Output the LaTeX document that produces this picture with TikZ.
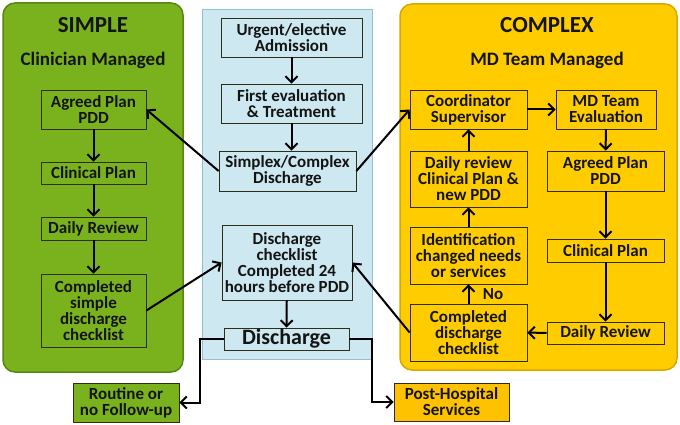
\documentclass[tikz,border=0pt]{standalone}
\usepackage{fontspec}
\setmainfont{Carlito}
\usetikzlibrary{arrows.meta}

\definecolor{simplegreen}{RGB}{122,178,30}
\definecolor{greenedge}{RGB}{88,134,18}
\definecolor{wardblue}{RGB}{205,232,240}
\definecolor{blueedge}{RGB}{150,192,208}
\definecolor{complexyellow}{RGB}{255,204,0}
\definecolor{yellowedge}{RGB}{214,168,0}
\definecolor{postorange}{RGB}{255,194,0}
\definecolor{boxline}{RGB}{45,45,25}
\definecolor{textdark}{RGB}{20,20,20}

\tikzset{
  box/.style={draw=boxline,line width=0.8pt,align=center,inner sep=1pt,text=textdark,font=\bfseries\fontsize{17}{16}\selectfont},
  gbox/.style={box,fill=simplegreen},
  bbox/.style={box,fill=wardblue},
  ybox/.style={box,fill=complexyellow},
  heading/.style={text=textdark,font=\bfseries\fontsize{19}{20}\selectfont},
  flow/.style={line width=2pt,-{Straight Barb[length=6pt,width=12pt]}},
}

\begin{document}
\begin{tikzpicture}[x=1pt,y=-1pt]
  \useasboundingbox (0,0) rectangle (680,425);
  % the three panels
  \draw[fill=simplegreen,draw=greenedge,line width=1.5pt,rounded corners=12pt] (3,3) rectangle (183,372);
  \draw[fill=wardblue,draw=blueedge,line width=1pt] (202,10) rectangle (372,359);
  \draw[fill=complexyellow,draw=yellowedge,line width=1.5pt,rounded corners=12pt] (400,4) rectangle (677,370);

  % simple side
  \node[heading,font=\bfseries\fontsize{23}{24}\selectfont] at (93,25) (simple) {SIMPLE};
  \node[heading] at (93,60) (clinician) {Clinician Managed};
  \node[gbox,minimum width=105pt,minimum height=39pt] at (93.5,109.5) (gagreed) {Agreed Plan\\PDD};
  \node[gbox,minimum width=105pt,minimum height=22pt] at (93.5,173) (gclin) {Clinical Plan};
  \node[gbox,minimum width=105pt,minimum height=23pt] at (93.5,228.5) (gdaily) {Daily Review};
  \node[gbox,minimum width=105pt,minimum height=73pt] at (93.5,310.5) (gcompl) {Completed\\simple\\discharge\\checklist};

  % ward column
  \node[bbox,minimum width=141pt,minimum height=39pt] at (291.5,37.5) (admit) {Urgent/elective\\Admission};
  \node[bbox,minimum width=141pt,minimum height=39pt] at (291.5,103.5) (firsteval) {First evaluation\\\& Treatment};
  \node[bbox,minimum width=137pt,minimum height=40pt] at (287.5,171) (simplex) {Simplex/Complex\\Discharge};
  \node[bbox,minimum width=130pt,minimum height=75pt] at (287,262.5) (checklist) {Discharge\\checklist\\Completed 24\\hours before PDD};
  \node[bbox,minimum width=125pt,minimum height=22pt,font=\bfseries\fontsize{22}{22}\selectfont] at (286.5,339) (discharge) {Discharge};

  % complex side
  \node[heading,font=\bfseries\fontsize{23}{24}\selectfont] at (547,25) (complex) {COMPLEX};
  \node[heading] at (547,60) (mdteam) {MD Team Managed};
  \node[ybox,minimum width=117pt,minimum height=39pt] at (468.5,109.5) (coord) {Coordinator\\Supervisor};
  \node[ybox,minimum width=100pt,minimum height=39pt] at (606,109.5) (mdeval) {MD Team\\Evaluation};
  \node[ybox,minimum width=117pt,minimum height=56pt] at (468.5,179) (dreview) {Daily review\\Clinical Plan \&\\new PDD};
  \node[ybox,minimum width=117pt,minimum height=40pt] at (605.5,171) (yagreed) {Agreed Plan\\PDD};
  \node[ybox,minimum width=117pt,minimum height=57pt] at (468.5,255.5) (ident) {Identification\\changed needs\\or services};
  \node[ybox,minimum width=117pt,minimum height=23pt] at (605.5,250.5) (yclin) {Clinical Plan};
  \node[ybox,minimum width=117pt,minimum height=57pt] at (468.5,332.5) (ycompl) {Completed\\discharge\\checklist};
  \node[ybox,minimum width=117pt,minimum height=22pt] at (605.5,333) (ydaily) {Daily Review};

  % after discharge
  \node[gbox,minimum width=106pt,minimum height=39pt] at (126,402.5) (routine) {Routine or\\no Follow-up};
  \node[box,fill=postorange,minimum width=115pt,minimum height=38pt] at (451.5,402) (posthosp) {Post-Hospital\\Services};

  % simple flow
  \draw[flow] (gagreed) -- (gclin);
  \draw[flow] (gclin) -- (gdaily);
  \draw[flow] (gdaily) -- (gcompl);
  % ward flow
  \draw[flow] (admit) -- (firsteval);
  \draw[flow] (firsteval.south) -- (firsteval.south |- simplex.north);
  \draw[flow] (checklist) -- (discharge);
  \draw[flow] (simplex.west) -- (gagreed.east);
  \draw[flow] (simplex.east) -- (coord.west);
  \draw[flow] (gcompl.east) -- (checklist.west);
  \draw[flow] (ycompl.west) -- (checklist.east);
  \draw[flow] (discharge.west) -- ++(-24,0) |- (routine.east);
  \draw[flow] (discharge.east) -- ++(23,0) |- (posthosp.west);
  % complex flow
  \draw[flow] (coord) -- (mdeval);
  \draw[flow] (mdeval) -- (yagreed);
  \draw[flow] (yagreed) -- (yclin);
  \draw[flow] (yclin) -- (ydaily);
  \draw[flow] (ydaily) -- (ycompl);
  \draw[flow] (ycompl) -- node[right,xshift=10pt,text=textdark,font=\bfseries\fontsize{17}{16}\selectfont] (no) {No} (ident);
  \draw[flow] (ident) -- (dreview);
  \draw[flow] (dreview) -- (coord);
\end{tikzpicture}
\end{document}
